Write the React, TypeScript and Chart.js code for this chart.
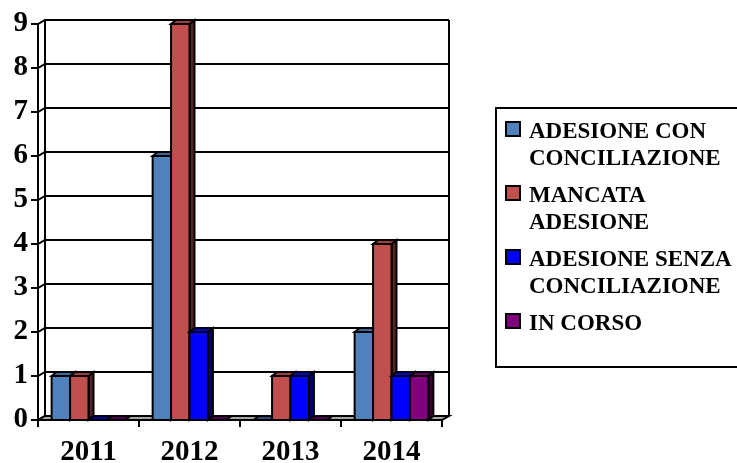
import React, { useEffect, useRef } from "react";
import { Chart, registerables } from "chart.js";

Chart.register(...registerables);

const categories = ["2011", "2012", "2013", "2014"];
const adesioneConConciliazione = [1, 6, 0, 2];
const mancataAdesione = [1, 9, 1, 4];
const adesioneSenzaConciliazione = [0, 2, 1, 1];
const inCorso = [0, 0, 0, 1];
const seriesNames = [
  ["ADESIONE CON", "CONCILIAZIONE"],
  ["MANCATA", "ADESIONE"],
  ["ADESIONE SENZA", "CONCILIAZIONE"],
  ["IN CORSO"],
];
const seriesColors = ["#4F81BD", "#C0504D", "#0000FF", "#800080"];
const yMin = 0;
const yMax = 9;
const yStep = 1;

const FONT = "'Liberation Serif', 'Times New Roman', serif";

function shade(hex: string, f: number): string {
  const n = parseInt(hex.slice(1), 16);
  const r = Math.round(((n >> 16) & 255) * f);
  const g = Math.round(((n >> 8) & 255) * f);
  const b = Math.round((n & 255) * f);
  return `rgb(${r},${g},${b})`;
}

// depth offsets for the 3D look
const WDX = 7;
const WDY = -4;
const BDX = 5;
const BDY = -4;

function poly(ctx: CanvasRenderingContext2D, pts: number[][], fill: string | null) {
  ctx.beginPath();
  ctx.moveTo(pts[0][0], pts[0][1]);
  for (let i = 1; i < pts.length; i++) ctx.lineTo(pts[i][0], pts[i][1]);
  ctx.closePath();
  if (fill) {
    ctx.fillStyle = fill;
    ctx.fill();
  }
  ctx.stroke();
}

const threeDPlugin = {
  id: "threeD",
  beforeDatasetsDraw(chart: any) {
    const ctx: CanvasRenderingContext2D = chart.ctx;
    const { left, right, top, bottom } = chart.chartArea;
    const ys = chart.scales.y;
    const xs = chart.scales.x;
    ctx.save();
    ctx.lineWidth = 2;
    ctx.strokeStyle = "#000";
    ctx.lineJoin = "miter";
    ctx.lineCap = "butt";

    // grid lines: front tick, left-wall diagonal, back wall line
    ys.ticks.forEach((t: any) => {
      const py = ys.getPixelForValue(t.value);
      ctx.beginPath();
      ctx.moveTo(left - 7, py);
      ctx.lineTo(left, py);
      ctx.lineTo(left + WDX, py + WDY);
      ctx.lineTo(right + WDX, py + WDY);
      ctx.stroke();
    });
    // wall edges
    ctx.beginPath();
    ctx.moveTo(left, top);
    ctx.lineTo(left, bottom);
    ctx.moveTo(left + WDX, top + WDY);
    ctx.lineTo(left + WDX, bottom + WDY);
    ctx.moveTo(right + WDX, top + WDY);
    ctx.lineTo(right + WDX, bottom + WDY);
    ctx.stroke();

    // floor
    poly(
      ctx,
      [
        [left, bottom],
        [right, bottom],
        [right + WDX, bottom + WDY],
        [left + WDX, bottom + WDY],
      ],
      "#A6A6A6"
    );

    // category ticks on x axis
    const step = xs.getPixelForValue(1) - xs.getPixelForValue(0);
    ctx.beginPath();
    for (let i = 0; i <= categories.length; i++) {
      const px = xs.getPixelForValue(i) - step / 2;
      ctx.moveTo(px, bottom);
      ctx.lineTo(px, bottom + 7);
    }
    ctx.stroke();

    // bars, left to right
    const nds = chart.data.datasets.length;
    for (let i = 0; i < categories.length; i++) {
      for (let d = 0; d < nds; d++) {
        const el = chart.getDatasetMeta(d).data[i];
        if (!el) continue;
        const col = seriesColors[d];
        const x0 = el.x - el.width / 2;
        const x1 = el.x + el.width / 2;
        const yv = el.y;
        const yb = el.base;
        // side
        if (yb - yv > 0.5) {
          poly(
            ctx,
            [
              [x1, yv],
              [x1 + BDX, yv + BDY],
              [x1 + BDX, yb + BDY],
              [x1, yb],
            ],
            shade(col, 0.45)
          );
        }
        // top
        poly(
          ctx,
          [
            [x0, yv],
            [x1, yv],
            [x1 + BDX, yv + BDY],
            [x0 + BDX, yv + BDY],
          ],
          shade(col, yb - yv > 0.5 ? 0.8 : 0.6)
        );
        // front
        if (yb - yv > 0.5) {
          poly(
            ctx,
            [
              [x0, yv],
              [x1, yv],
              [x1, yb],
              [x0, yb],
            ],
            col
          );
        }
      }
    }
    // front floor edge (x axis line)
    ctx.beginPath();
    ctx.moveTo(left, bottom);
    ctx.lineTo(right, bottom);
    ctx.stroke();
    ctx.restore();
    return false;
  },
};

export default function App() {
  const ref = useRef<HTMLCanvasElement | null>(null);

  useEffect(() => {
    document.body.style.margin = "0";
    if (!ref.current) return;
    const chart = new Chart(ref.current, {
      type: "bar",
      data: {
        labels: categories,
        datasets: [
          { label: seriesNames[0].join(" "), data: adesioneConConciliazione, backgroundColor: seriesColors[0] },
          { label: seriesNames[1].join(" "), data: mancataAdesione, backgroundColor: seriesColors[1] },
          { label: seriesNames[2].join(" "), data: adesioneSenzaConciliazione, backgroundColor: seriesColors[2] },
          { label: seriesNames[3].join(" "), data: inCorso, backgroundColor: seriesColors[3] },
        ],
      },
      options: {
        responsive: false,
        animation: false,
        devicePixelRatio: 1,
        layout: { padding: { top: 24, right: 295, bottom: 0, left: 0 } },
        datasets: { bar: { categoryPercentage: 0.73, barPercentage: 1 } },
        plugins: { legend: { display: false }, tooltip: { enabled: false } },
        scales: {
          x: {
            grid: { display: false, drawTicks: true, tickLength: 7 },
            border: { display: false },
            ticks: {
              color: "#000",
              padding: 8,
              font: { family: FONT, size: 29, weight: "bold" },
            },
            afterFit: (s: any) => {
              s.height = 43;
            },
          },
          y: {
            min: yMin,
            max: yMax,
            grid: { display: false, drawTicks: true, tickLength: 7 },
            border: { display: false },
            ticks: {
              stepSize: yStep,
              color: "#000",
              padding: 3,
              font: { family: FONT, size: 29, weight: "bold" },
            },
            afterFit: (s: any) => {
              s.width = 38;
            },
          },
        },
      } as any,
      plugins: [threeDPlugin as any],
    });
    return () => chart.destroy();
  }, []);

  return (
    <div
      style={{
        position: "fixed",
        left: 0,
        top: 0,
        width: 737,
        height: 463,
        overflow: "hidden",
        background: "#fff",
      }}
    >
      <canvas ref={ref} width={737} height={463} style={{ position: "absolute", left: 0, top: 0 }} />
      <div
        style={{
          position: "absolute",
          left: 495,
          top: 107,
          width: 262,
          height: 261,
          border: "2px solid #000",
          boxSizing: "border-box",
        }}
      />
      {seriesNames.map((lines, i) => (
        <React.Fragment key={i}>
          <div
            style={{
              position: "absolute",
              left: 505,
              top: 121 + 64 * i,
              width: 16,
              height: 16,
              border: "2px solid #000",
              boxSizing: "border-box",
              background: seriesColors[i],
            }}
          />
          <div
            style={{
              position: "absolute",
              left: 529,
              top: 117 + 64 * i,
              font: `bold 23px ${FONT}`,
              lineHeight: "27px",
              whiteSpace: "nowrap",
              color: "#000",
            }}
          >
            {lines.map((l, k) => (
              <div key={k}>{l}</div>
            ))}
          </div>
        </React.Fragment>
      ))}
    </div>
  );
}
